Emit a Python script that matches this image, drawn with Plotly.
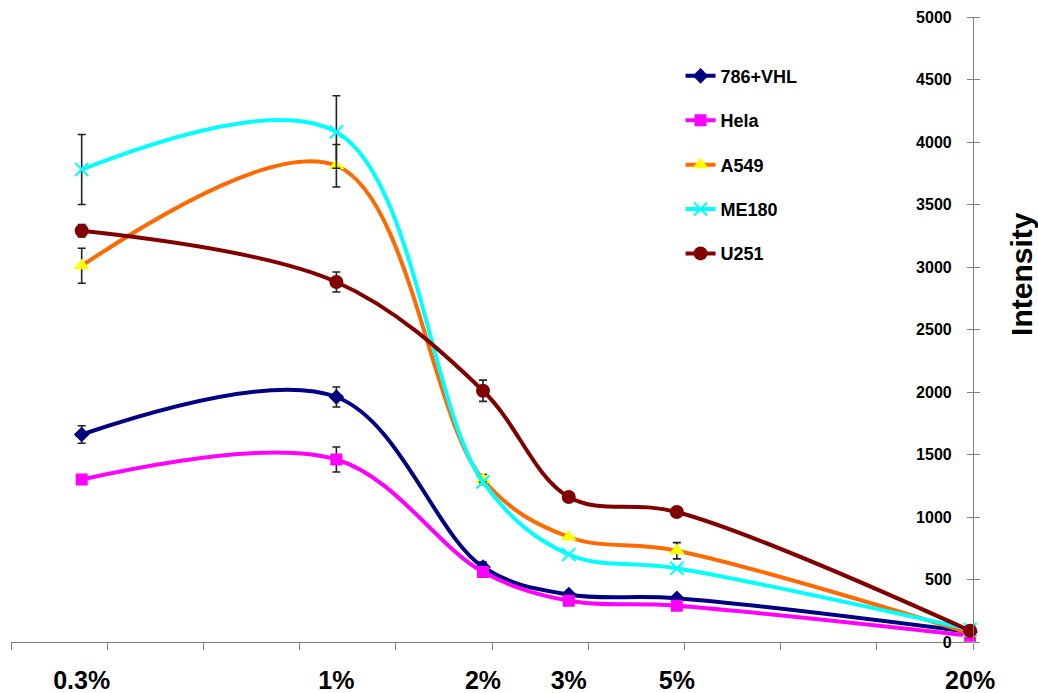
import numpy as np
import plotly.graph_objects as go

# ---- data ----
conc = [0.3, 1, 2, 3, 5, 20]
conc_labels = ["0.3%", "1%", "2%", "3%", "5%", "20%"]

vhl = [1660, 1960, 600, 380, 350, 80]
vhl_err = [70, 80, 40, 0, 0, 0]
hela = [1300, 1460, 560, 330, 290, 50]
hela_err = [0, 100, 0, 0, 0, 0]
a549 = [3010, 3810, 1300, 840, 730, 70]
a549_err = [140, 170, 40, 0, 65, 0]
me180 = [3780, 4080, 1280, 700, 590, 100]
me180_err = [280, 290, 0, 0, 0, 0]
u251 = [3290, 2880, 2010, 1160, 1040, 90]
u251_err = [50, 80, 85, 0, 0, 0]

y_ticks = [0, 500, 1000, 1500, 2000, 2500, 3000, 3500, 4000, 4500, 5000]

FONT = "Liberation Sans, Arial, sans-serif"
ERRC = "#222222"

series = [
    ("786+VHL", vhl, vhl_err, "#000080", dict(symbol="diamond", size=12, color="#000080")),
    ("Hela", hela, hela_err, "#FF00FF", dict(symbol="square", size=12, color="#FF00FF")),
    ("A549", a549, a549_err, "#FF6A00", dict(symbol="triangle-up", size=14, color="#FFFF00")),
    ("ME180", me180, me180_err, "#00FFFF", dict(symbol="x-thin", size=13, color="#00FFFF",
                                                line=dict(width=2, color="#00FFFF"))),
    ("U251", u251, u251_err, "#800000", dict(symbol="circle", size=14, color="#800000")),
]

fig = go.Figure()
for i, (name, vals, err, col, mk) in enumerate(series):
    fig.add_trace(go.Scatter(
        x=conc, y=vals, name=name, mode="lines+markers",
        line=dict(color=col, width=4, shape="spline", smoothing=1.0),
        marker=mk,
        error_y=dict(type="data", array=err, visible=True, color=ERRC, thickness=1.6, width=4),
        legendgroup="g%d" % i,
        cliponaxis=False,
    ))

# log-x axis range (2 decades shown, 10 tick intervals)
lo, hi = -0.668, 1.307
tick_pos = [10 ** (lo + (hi - lo) * k / 10) for k in range(11)]

axis_font = dict(family=FONT, size=25, color="black", weight="bold")

fig.update_layout(
    width=1038, height=693,
    margin=dict(l=11, r=65, t=17, b=51, autoexpand=False),
    paper_bgcolor="white", plot_bgcolor="white",
    showlegend=True,
    legend=dict(
        x=0.696, y=0.935, xanchor="left", yanchor="top",
        font=dict(family=FONT, size=18, color="black", weight="bold"),
        tracegroupgap=18, bgcolor="rgba(0,0,0,0)", itemwidth=30,
    ),
    xaxis=dict(
        type="log", range=[lo, hi], automargin=False,
        tickmode="array", tickvals=conc, ticktext=conc_labels,
        ticks="", tickfont=axis_font, ticklabelstandoff=16,
        showline=True, linecolor="#808080", linewidth=1.2,
        showgrid=False, zeroline=False,
        minor=dict(tickmode="array", tickvals=tick_pos, ticks="outside",
                   ticklen=7, tickcolor="#808080", tickwidth=1, showgrid=False),
    ),
    yaxis=dict(
        range=[0, 5000], anchor="free", position=1, side="left", automargin=False,
        tickmode="array", tickvals=y_ticks, ticks="outside", ticklen=6,
        tickcolor="#808080", tickwidth=1,
        tickfont=dict(family=FONT, size=16, color="black", weight="bold"),
        ticklabelstandoff=12,
        showline=True, linecolor="#808080", linewidth=1.2,
        showgrid=False, zeroline=False,
    ),
    yaxis2=dict(
        range=[0, 5000], overlaying="y", anchor="free", position=1, side="right",
        automargin=False,
        tickmode="array", tickvals=y_ticks, ticks="outside", ticklen=6,
        tickcolor="#808080", tickwidth=1, showticklabels=False,
        showline=False, showgrid=False, zeroline=False,
    ),
    annotations=[dict(
        text="Intensity", textangle=-90, xref="paper", yref="paper",
        x=1.051, y=0.589, xanchor="center", yanchor="middle", showarrow=False,
        font=dict(family=FONT, size=30, color="black", weight="bold"),
    )],
)

# invisible trace so the overlay y axis is drawn
fig.add_trace(go.Scatter(x=[conc[0]], y=[0], xaxis="x", yaxis="y2", mode="markers",
                         marker=dict(opacity=0), showlegend=False, hoverinfo="skip"))

fig.write_html("out.html", config={"displayModeBar": False},
               post_script="document.body.style.margin='0px';document.body.style.padding='0px';")
